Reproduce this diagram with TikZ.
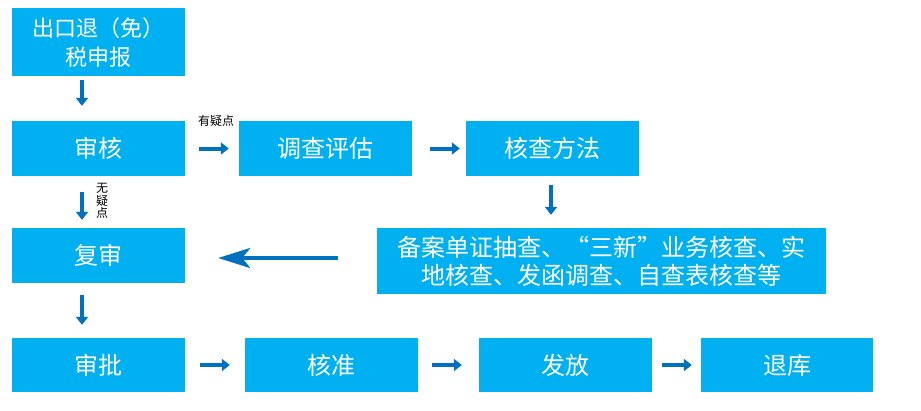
\documentclass[tikz,border=0pt]{standalone}
\usepackage{fontspec}
\newfontfamily\cjk{Noto Sans CJK SC}
\usetikzlibrary{arrows.meta,calc}
\definecolor{boxblue}{RGB}{0,176,240}
\definecolor{arrowblue}{RGB}{0,112,192}
\begin{document}
\begin{tikzpicture}[x=1pt,y=-1pt,
  box/.style={fill=boxblue,text=white,inner sep=0pt,minimum width=173pt,minimum height=55pt,align=center,font=\cjk\fontsize{24}{28}\selectfont},
  conn/.style={draw=arrowblue,line width=4pt,-{Triangle[length=8pt,width=12pt]}},
  bigconn/.style={draw=arrowblue,line width=3.5pt,-{Stealth[length=32pt,width=20pt,inset=8pt]}},
  lab/.style={text=black,inner sep=0pt,font=\cjk\fontsize{12}{12.5}\selectfont,align=center}]
\fill[white] (0,0) rectangle (921,410);
\useasboundingbox (0,0) rectangle (921,410);
\node[box,minimum height=68pt,font=\cjk\fontsize{22}{29}\selectfont] (sb) at (98.5,42) {出口退（免）\\税申报};
\node[box] (sh) at (98.5,148.5) {审核};
\node[box] (dc) at (325.5,148.5) {调查评估};
\node[box] (hc) at (552.5,148.5) {核查方法};
\node[box,minimum width=449pt,minimum height=66pt] (bl) at (601.5,261) {备案单证抽查、“三新”业务核查、实\\地核查、发函调查、自查表核查等};
\node[box] (fs) at (98.5,255.5) {复审};
\node[box,minimum height=54pt] (sp) at (98.5,365) {审批};
\node[box,minimum height=54pt] (hz) at (331.5,365) {核准};
\node[box,minimum height=54pt] (ff) at (565.5,365) {发放};
\node[box,minimum height=54pt,minimum width=172pt] (tk) at (787,365) {退库};
\node[lab] (yyd) at (216,121) {有疑点};
\node[lab] (wyd) at (102,201) {无\\疑\\点};
\coordinate (ylev) at (0,258);
\coordinate (xcol) at (82,0);
\coordinate (xhc) at (551,0);
\draw[conn,shorten <=4pt,shorten >=15pt] (sb.south -| xcol) -- (sh.north -| xcol);
\draw[conn,shorten <=14pt,shorten >=10pt] (sh) -- (dc);
\draw[conn,shorten <=18pt,shorten >=6pt] (dc) -- (hc);
\draw[conn,shorten <=9pt,shorten >=13pt] (hc.south -| xhc) -- (bl.north -| xhc);
\draw[bigconn,shorten <=39pt,shorten >=33pt] (bl.west |- ylev) -- (fs.east |- ylev);
\draw[conn,shorten <=16pt,shorten >=8pt] (sh.south -| xcol) -- (fs.north -| xcol);
\draw[conn,shorten <=12pt,shorten >=13pt] (fs.south -| xcol) -- (sp.north -| xcol);
\draw[conn,shorten <=15pt,shorten >=15pt] (sp) -- (hz);
\draw[conn,shorten <=14pt,shorten >=17pt] (hz) -- (ff);
\draw[conn,shorten <=10pt,shorten >=9pt] (ff) -- (tk);
\end{tikzpicture}
\end{document}
